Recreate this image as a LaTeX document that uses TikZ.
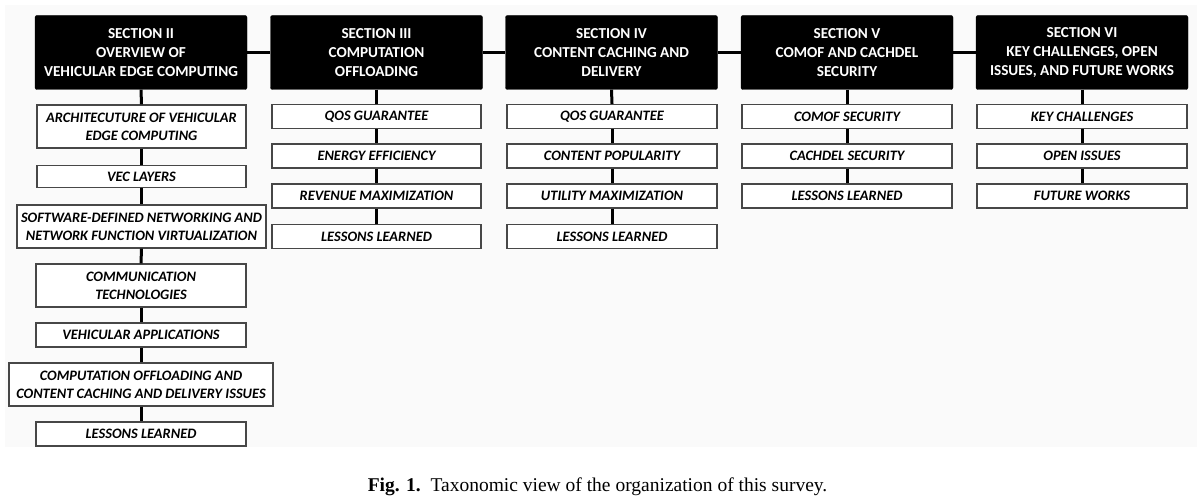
\documentclass[tikz,border=0pt]{standalone}
\usepackage{fontspec}
\setmainfont{Carlito}
\newfontfamily\capfont{Liberation Serif}
\begin{document}
\begin{tikzpicture}[x=1pt,y=-1pt,
  secbox/.style={fill=black,draw=black,rounded corners=2pt,text=white,
    font=\fontsize{15.2}{18.7}\selectfont\bfseries,align=center,
    minimum width=212pt,minimum height=74pt,inner sep=0pt},
  topicbox/.style={fill=white,draw=black!72,line width=1.3pt,
    font=\fontsize{14.4}{17.7}\selectfont\bfseries\itshape,align=center,
    minimum height=24pt,inner sep=0pt},
  link/.style={line width=3pt,black},
]
\useasboundingbox (0,0) rectangle (1203,503);
\fill[black!2] (5,5) rectangle (1197,447);

% section headers
\node[secbox] (s2) at (141,52.5) {SECTION II\\OVERVIEW OF\\VEHICULAR EDGE COMPUTING};
\node[secbox] (s3) at (376.5,52.5) {SECTION III\\COMPUTATION\\OFFLOADING};
\node[secbox] (s4) at (611.5,52.5) {SECTION IV\\CONTENT CACHING AND\\DELIVERY};
\node[secbox] (s5) at (847,52.5) {SECTION V\\COMOF AND CACHDEL\\SECURITY};
\node[secbox] (s6) at (1082,52.5) {SECTION VI\\KEY CHALLENGES, OPEN\\ISSUES, AND FUTURE WORKS};

% section II topics
\node[topicbox,minimum width=209pt,minimum height=43pt] (a1) at (141.5,126.5) {ARCHITECUTURE OF VEHICULAR\\EDGE COMPUTING};
\node[topicbox,minimum width=209pt,minimum height=22pt] (a2) at (141.5,176.5) {VEC LAYERS};
\node[topicbox,minimum width=249pt,minimum height=43pt] (a3) at (141.5,226.5) {SOFTWARE-DEFINED NETWORKING AND\\NETWORK FUNCTION VIRTUALIZATION};
\node[topicbox,minimum width=210pt,minimum height=43pt] (a4) at (141,285.5) {COMMUNICATION\\TECHNOLOGIES};
\node[topicbox,minimum width=210pt] (a5) at (141,335) {VEHICULAR APPLICATIONS};
\node[topicbox,minimum width=264pt,minimum height=43pt] (a6) at (141,384.5) {COMPUTATION OFFLOADING AND\\CONTENT CACHING AND DELIVERY ISSUES};
\node[topicbox,minimum width=210pt] (a7) at (141,434) {LESSONS LEARNED};

% section III topics
\node[topicbox,minimum width=209pt] (b1) at (376.5,116.5) {QOS GUARANTEE};
\node[topicbox,minimum width=209pt] (b2) at (376.5,156) {ENERGY EFFICIENCY};
\node[topicbox,minimum width=209pt] (b3) at (376.5,196) {REVENUE MAXIMIZATION};
\node[topicbox,minimum width=209pt] (b4) at (376.5,236.5) {LESSONS LEARNED};

% section IV topics
\node[topicbox,minimum width=210pt] (c1) at (612,116.5) {QOS GUARANTEE};
\node[topicbox,minimum width=210pt] (c2) at (612,156) {CONTENT POPULARITY};
\node[topicbox,minimum width=210pt] (c3) at (612,196) {UTILITY MAXIMIZATION};
\node[topicbox,minimum width=210pt] (c4) at (612,236.5) {LESSONS LEARNED};

% section V topics
\node[topicbox,minimum width=210pt] (d1) at (847,116.5) {COMOF SECURITY};
\node[topicbox,minimum width=210pt] (d2) at (847,156) {CACHDEL SECURITY};
\node[topicbox,minimum width=210pt] (d3) at (847,196) {LESSONS LEARNED};

% section VI topics
\node[topicbox,minimum width=210pt] (e1) at (1082,116.5) {KEY CHALLENGES};
\node[topicbox,minimum width=210pt] (e2) at (1082,156) {OPEN ISSUES};
\node[topicbox,minimum width=210pt] (e3) at (1082,196) {FUTURE WORKS};

% links between sections
\draw[link] (s2) -- (s3);
\draw[link] (s3) -- (s4);
\draw[link] (s4) -- (s5);
\draw[link] (s5) -- (s6);

% vertical chains
\draw[link] (s2.south) -- (a1.north);
\draw[link] (a1) -- (a2);
\draw[link] (a2) -- (a3);
\draw[link] (a3) -- (a4);
\draw[link] (a4) -- (a5);
\draw[link] (a5) -- (a6);
\draw[link] (a6) -- (a7);
\draw[link] (s3.south) -- (b1.north);
\draw[link] (b1) -- (b2);
\draw[link] (b2) -- (b3);
\draw[link] (b3) -- (b4);
\draw[link] (s4.south) -- (c1.north);
\draw[link] (c1) -- (c2);
\draw[link] (c2) -- (c3);
\draw[link] (c3) -- (c4);
\draw[link] (s5.south) -- (d1.north);
\draw[link] (d1) -- (d2);
\draw[link] (d2) -- (d3);
\draw[link] (s6.south) -- (e1.north);
\draw[link] (e1) -- (e2);
\draw[link] (e2) -- (e3);

% caption
\node[font=\capfont\fontsize{19.5}{22}\selectfont,anchor=base] (cap) at (597.5,491)
  {\textbf{Fig. 1.}\enspace Taxonomic view of the organization of this survey.};
\end{tikzpicture}
\end{document}
